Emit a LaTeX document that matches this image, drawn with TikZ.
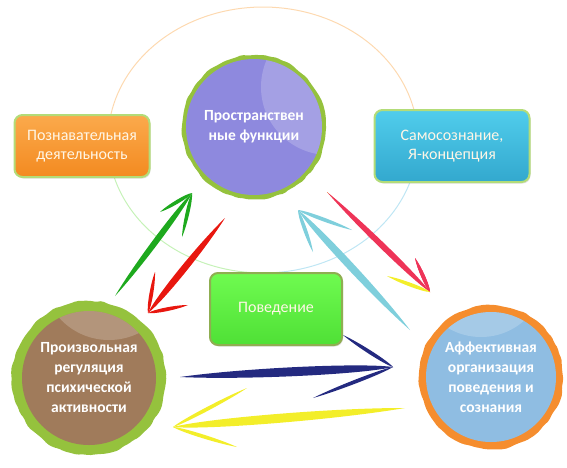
\documentclass[tikz,border=0pt]{standalone}
\usepackage{fontspec}
\setmainfont{Carlito}
\usetikzlibrary{calc,shadows,decorations.pathmorphing}

\definecolor{ringgreen}{HTML}{95C23D}
\definecolor{ringorange}{HTML}{F58D2E}
\definecolor{spatialfill}{HTML}{8E89DE}
\definecolor{willfill}{HTML}{A07B5B}
\definecolor{affectfill}{HTML}{8FBDE2}
\definecolor{orangetop}{HTML}{FBAA4C}
\definecolor{orangebot}{HTML}{F38A20}
\definecolor{bluetop}{HTML}{50CDEC}
\definecolor{bluebot}{HTML}{33A8CE}
\definecolor{greentop}{HTML}{6FFB50}
\definecolor{greenbot}{HTML}{4FE036}
\definecolor{tileborder}{HTML}{B3DC78}
\definecolor{tiletext}{HTML}{FFF6E6}
\definecolor{arcorange}{HTML}{FDD9B0}
\definecolor{arcgreen}{HTML}{C6F2B8}
\definecolor{arcblue}{HTML}{BFE6F4}
\definecolor{brushgreen}{HTML}{1EA91E}
\definecolor{brushred}{HTML}{E8170F}
\definecolor{brushcyan}{HTML}{7FCFDC}
\definecolor{brushpink}{HTML}{EE3458}
\definecolor{brushyellow}{HTML}{F3EE2A}
\definecolor{brushnavy}{HTML}{242A80}

% pointed brush stroke: (colour, from, to, width)
\newcommand{\taper}[4]{
    \fill[#1] (#2) .. controls ($(#2)!0.3!(#3)!#4!90:(#3)$)
      and ($(#2)!0.85!(#3)!#4!90:(#3)$) .. (#3)
      .. controls ($(#2)!0.85!(#3)!#4!-90:(#3)$)
      and ($(#2)!0.3!(#3)!#4!-90:(#3)$) .. (#2) -- cycle;
}
% (colour, tail, head, barb, barb, width)
\newcommand{\brusharrow}[6]{
    \taper{#1}{#2}{#3}{#6}
    \taper{#1}{#4}{#3}{2.5pt}
    \taper{#1}{#5}{#3}{2.5pt}
}
% (colour, centre, radius)
\newcommand{\brushring}[3]{
    \fill[#1, decorate, decoration={random steps, segment length=6pt, amplitude=1pt},
      rounded corners=2pt] (#2) circle[radius=#3];
}
% (centre, radius, shift of the highlight)
\newcommand{\shine}[3]{
    \begin{scope}
      \clip (#1) circle[radius=#2];
      \fill[white, opacity=0.2] ($(#1)+(#3)$) circle[radius=#2];
    \end{scope}
}

\begin{document}
\begin{tikzpicture}[x=1pt,y=-1pt,
  bubble/.style={circle, inner sep=0pt, text=white, align=center,
    font=\fontsize{15.5}{20}\selectfont\bfseries},
  tile/.style={rounded corners=8pt, draw=tileborder, line width=2pt, text=tiletext,
    align=center, font=\fontsize{16}{19}\selectfont,
    drop shadow={opacity=0.25, shadow xshift=1pt, shadow yshift=-1.5pt}}]

  \useasboundingbox (0,0) rectangle (567,467);
  \pgfmathsetseed{11}

  % faint ring behind everything
  \draw[arcorange, line width=1pt] plot[domain=180:360, samples=80]
    ({263+155*cos(\x)}, {140+133*sin(\x)});
  \draw[arcgreen, line width=1pt] plot[domain=90:180, samples=40]
    ({263+155*cos(\x)}, {140+133*sin(\x)});
  \draw[arcblue, line width=1pt] plot[domain=0:90, samples=40]
    ({263+155*cos(\x)}, {140+133*sin(\x)});

  % boxes
  \node[tile, top color=orangetop, bottom color=orangebot,
    minimum width=135pt, minimum height=62pt] (cognition) at (82,146)
    {Познавательная\\деятельность};
  \node[tile, top color=bluetop, bottom color=bluebot,
    minimum width=155pt, minimum height=72pt] (selfimage) at (452,146)
    {Самосознание,\\Я-концепция};
  \node[tile, draw=ringgreen!70!gray, top color=greentop, bottom color=greenbot,
    minimum width=132pt, minimum height=72pt] (behaviour) at (276,309)
    {Поведение};

  % circles
  \coordinate (cSpatial) at (254,127);
  \coordinate (cWill) at (89,378);
  \coordinate (cAffect) at (491,377);

  \brushring{ringgreen}{cSpatial}{72pt}
  \node[bubble, fill=spatialfill, minimum size=136pt] (spatial) at (cSpatial)
    {Пространствен\\ные функции};
  \shine{cSpatial}{68pt}{75,-40}

  \brushring{ringgreen}{cWill}{77pt}
  \node[bubble, fill=willfill, minimum size=134pt] (will) at (cWill)
    {Произвольная\\регуляция\\психической\\активности};
  \shine{cWill}{67pt}{20,-105}

  \brushring{ringorange}{cAffect}{72pt}
  \node[bubble, fill=affectfill, minimum size=130pt] (affect) at (cAffect)
    {Аффективная\\организация\\поведения и\\сознания};
  \shine{cAffect}{65pt}{-10,-105}

  % arrow ends
  \coordinate (gTail) at (115,296);  \coordinate (gHead) at (192,193);
  \coordinate (gBarbA) at (160,212); \coordinate (gBarbB) at (182,237);
  \coordinate (rTail) at (225,218);  \coordinate (rHead) at (148,313);
  \coordinate (rBarbA) at (155,272); \coordinate (rBarbB) at (188,305);
  \coordinate (cTail) at (410,330);  \coordinate (cHead) at (298,210);
  \coordinate (cBarbA) at (313,252); \coordinate (cBarbB) at (352,230);
  \coordinate (pTail) at (327,192);  \coordinate (pHead) at (430,292);
  \coordinate (pBarbA) at (415,258); \coordinate (pBarbB) at (387,276);
  \coordinate (nTail) at (180,377);  \coordinate (nHead) at (393,367);
  \coordinate (nBarbA) at (343,335); \coordinate (nBarbB) at (313,398);
  \coordinate (yTail) at (405,408);  \coordinate (yHead) at (173,427);
  \coordinate (yBarbA) at (247,388); \coordinate (yBarbB) at (237,447);

  % (colour, tail, head, barb, barb, width)
  \brusharrow{brushgreen}{gTail}{gHead}{gBarbA}{gBarbB}{4pt}
  \brusharrow{brushred}{rTail}{rHead}{rBarbA}{rBarbB}{4.5pt}
  \brusharrow{brushcyan}{cTail}{cHead}{cBarbA}{cBarbB}{5pt}
  \taper{brushyellow}{pTail}{pHead}{2pt}
  \brusharrow{brushpink}{pTail}{pHead}{pBarbA}{pBarbA}{4pt}
  \taper{brushyellow}{pBarbB}{pHead}{2.5pt}
  \brusharrow{brushnavy}{nTail}{nHead}{nBarbA}{nBarbB}{6pt}
  \brusharrow{brushyellow}{yTail}{yHead}{yBarbA}{yBarbB}{6pt}

\end{tikzpicture}
\end{document}
